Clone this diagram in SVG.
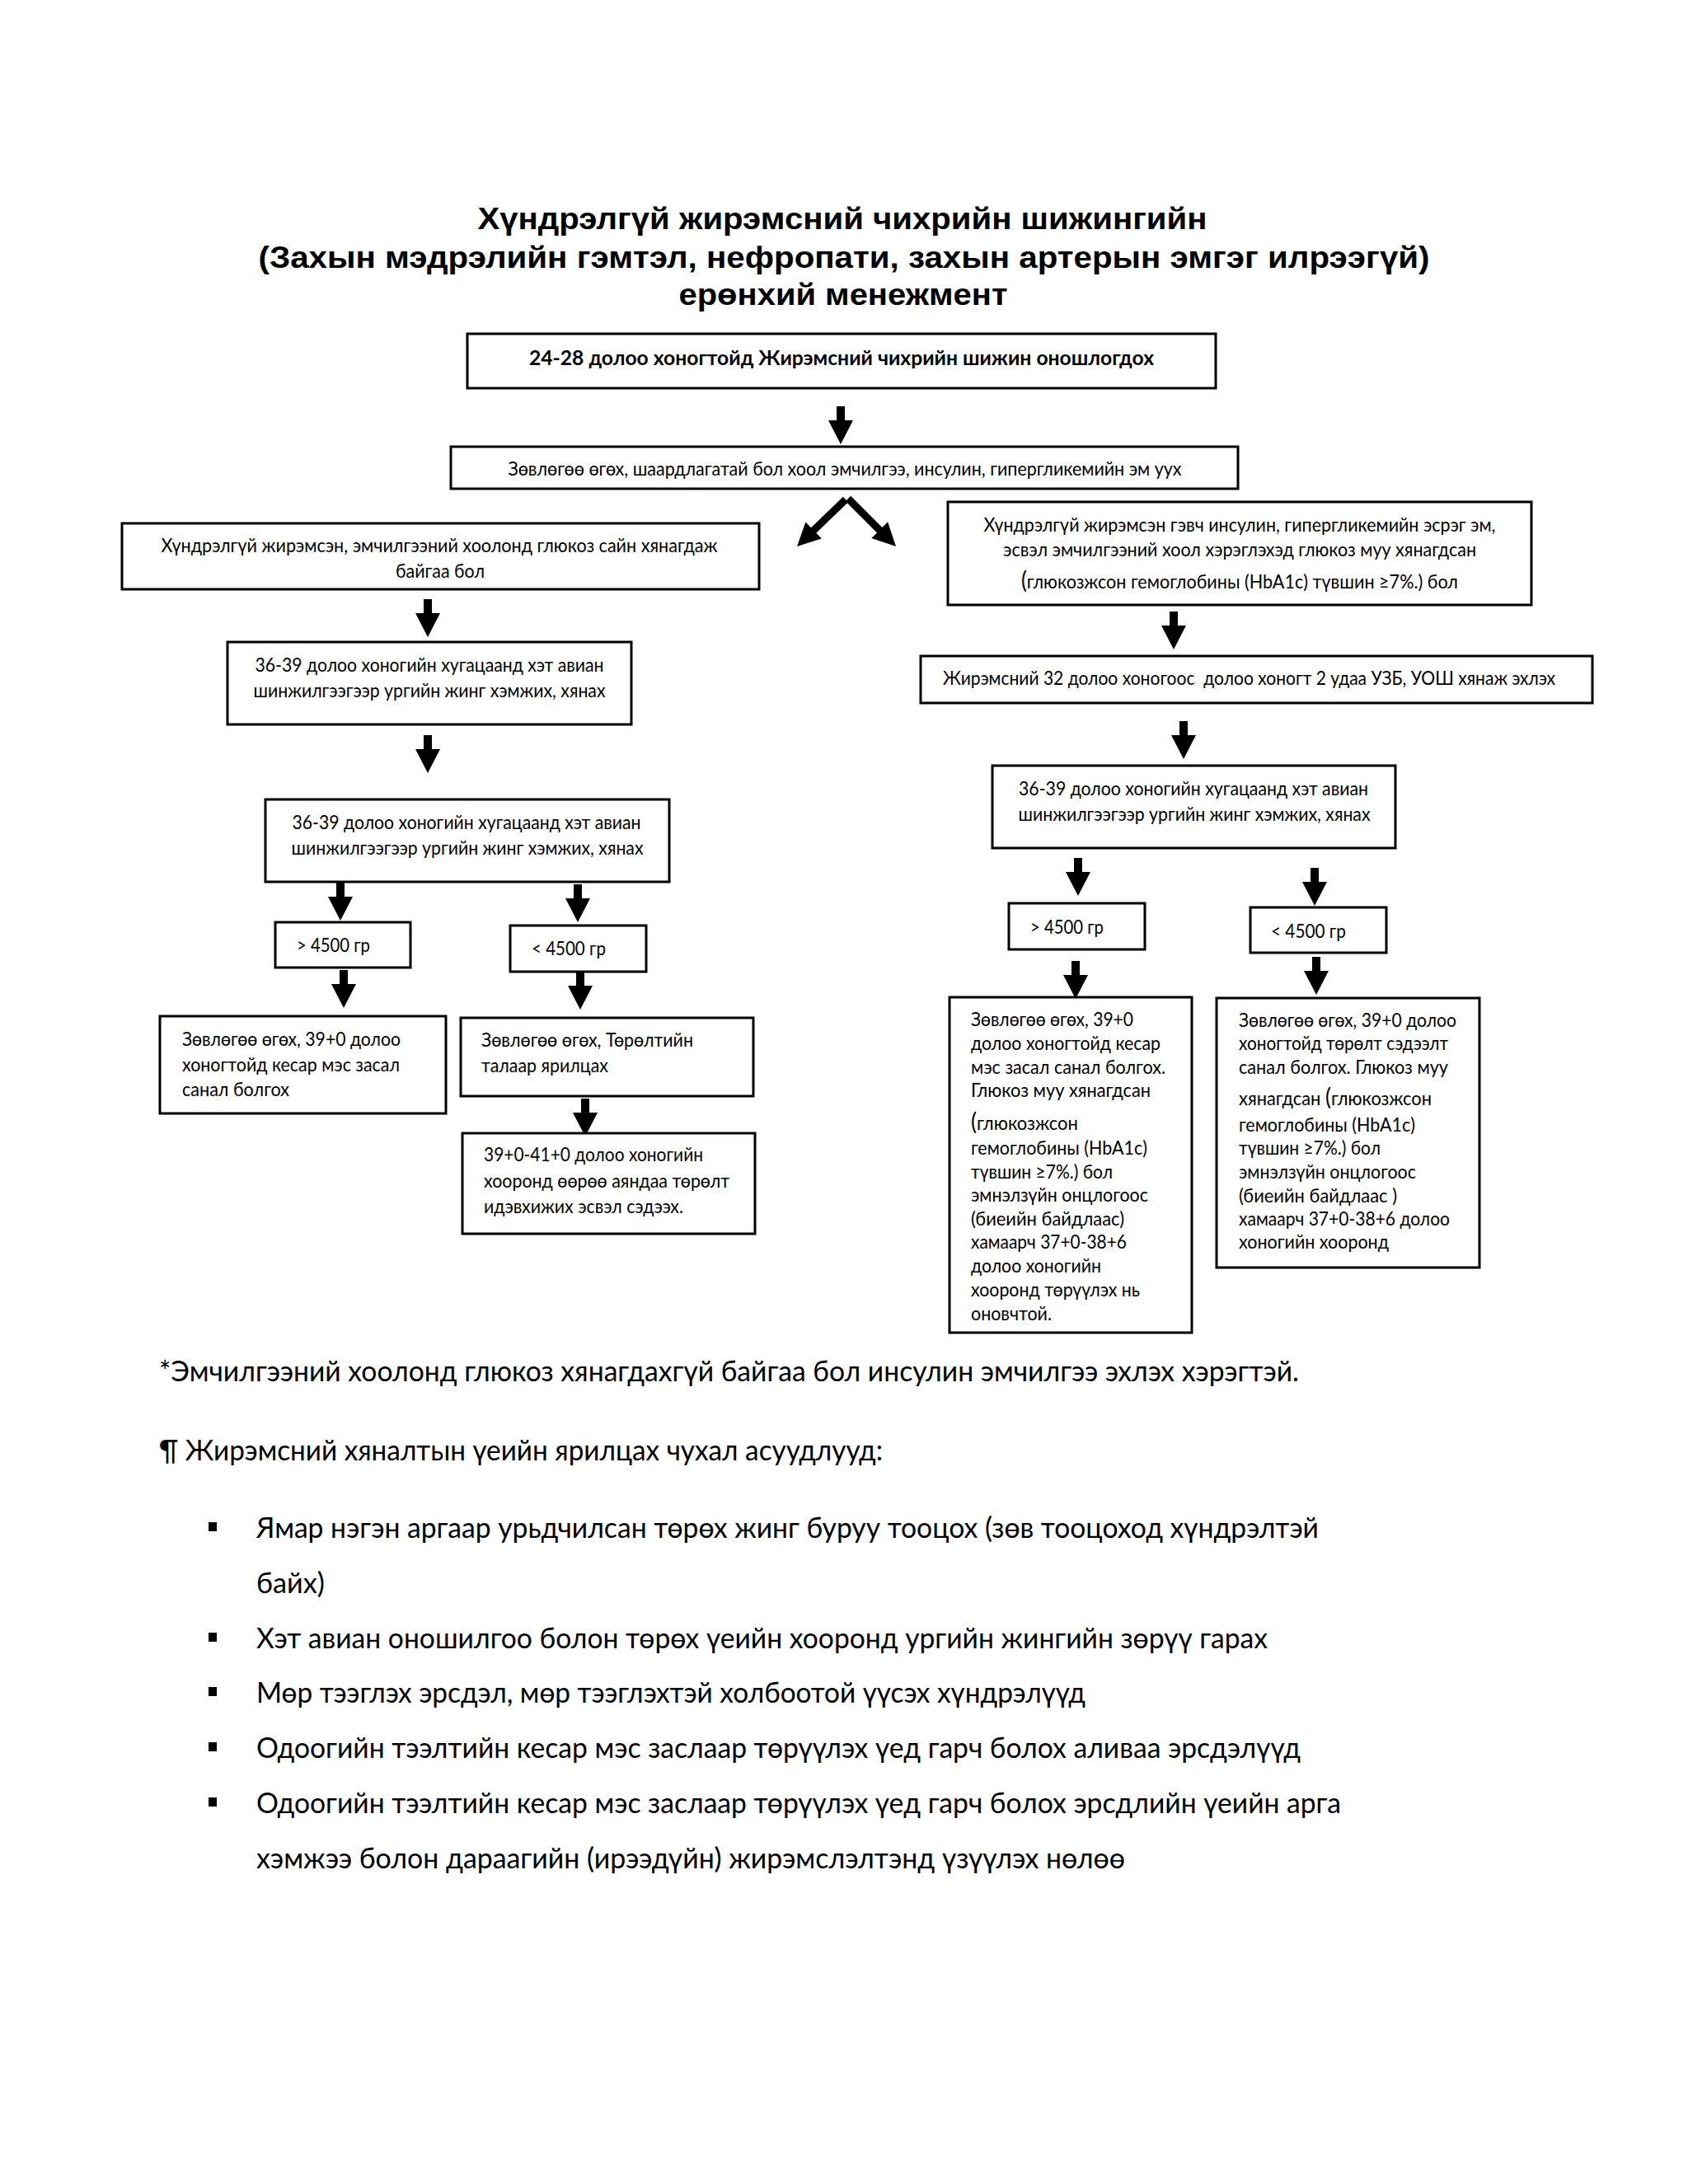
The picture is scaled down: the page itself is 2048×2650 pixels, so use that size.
<svg xmlns="http://www.w3.org/2000/svg" xmlns:xlink="http://www.w3.org/1999/xlink" width="2048" height="2650" viewBox="0 0 2048 2650">
<style>
.box{fill:#fff;stroke:#000;stroke-width:3}
.t{font-family:Lato,"Open Sans","Liberation Sans",sans-serif;font-size:23.5px;fill:#000}
.c{text-anchor:middle}
.b{font-weight:bold;font-size:25px}
.ti{font-family:"Liberation Sans",Arial,sans-serif;font-weight:bold;font-size:37px;fill:#000;text-anchor:middle}
.f{font-size:35px}
.p{font-size:28px}
.arr{fill:#000}
</style>
<defs>
<path id="ad" d="M-5,-46 H5 V-29 H15 L0,0 L-15,-29 H-5 Z"/>
</defs>
<rect width="2048" height="2650" fill="#fff"/>

<g id="title">
<text class="ti" x="1022" y="278" textLength="885" lengthAdjust="spacingAndGlyphs">Хүндрэлгүй жирэмсний чихрийн шижингийн</text>
<text class="ti" x="1024" y="325" textLength="1421" lengthAdjust="spacingAndGlyphs">(Захын мэдрэлийн гэмтэл, нефропати, захын артерын эмгэг илрээгүй)</text>
<text class="ti" x="1023" y="370" textLength="399" lengthAdjust="spacingAndGlyphs">ерөнхий менежмент</text>
</g>

<g id="connectors" class="arr">
<use xlink:href="#ad" x="1020" y="539"/>
<path d="M-4.5,-82 H4.5 V-28 H14 L0,0 L-14,-28 H-4.5 Z" transform="translate(967,663) rotate(46)"/>
<path d="M-4.5,-82 H4.5 V-28 H14 L0,0 L-14,-28 H-4.5 Z" transform="translate(1087,663) rotate(-45)"/>
<use xlink:href="#ad" x="519" y="773"/>
<use xlink:href="#ad" x="519" y="938"/>
<use xlink:href="#ad" x="413" y="1117"/>
<use xlink:href="#ad" x="701" y="1119"/>
<use xlink:href="#ad" x="417" y="1223"/>
<use xlink:href="#ad" x="704" y="1225"/>
<use xlink:href="#ad" x="710" y="1379"/>
<use xlink:href="#ad" x="1424" y="788"/>
<use xlink:href="#ad" x="1436" y="921"/>
<use xlink:href="#ad" x="1308" y="1087"/>
<use xlink:href="#ad" x="1595" y="1099"/>
<use xlink:href="#ad" x="1305" y="1212"/>
<use xlink:href="#ad" x="1597" y="1207"/>
</g>

<g id="n-diagnosis">
<rect class="box" x="567" y="405" width="908" height="66"/>
<text class="t b c" x="1021" y="443" textLength="758" lengthAdjust="spacingAndGlyphs">24-28 долоо хоногтойд Жирэмсний чихрийн шижин оношлогдох</text>
</g>

<g id="n-advice">
<rect class="box" x="547" y="542" width="955" height="51"/>
<text class="t c" x="1025" y="577" textLength="817" lengthAdjust="spacingAndGlyphs">Зөвлөгөө өгөх, шаардлагатай бол хоол эмчилгээ, инсулин, гипергликемийн эм уух</text>
</g>

<g id="n-left-controlled">
<rect class="box" x="148" y="635" width="773" height="80"/>
<text class="t c" x="533" y="670" textLength="675" lengthAdjust="spacingAndGlyphs">Хүндрэлгүй жирэмсэн, эмчилгээний хоолонд глюкоз сайн хянагдаж</text>
<text class="t c" x="534" y="701" textLength="108" lengthAdjust="spacingAndGlyphs">байгаа бол</text>
</g>

<g id="n-right-poor">
<rect class="box" x="1150" y="609" width="708" height="125"/>
<text class="t c" x="1504" y="645" textLength="621" lengthAdjust="spacingAndGlyphs">Хүндрэлгүй жирэмсэн гэвч инсулин, гипергликемийн эсрэг эм,</text>
<text class="t c" x="1504" y="675" textLength="574" lengthAdjust="spacingAndGlyphs">эсвэл эмчилгээний хоол хэрэглэхэд глюкоз муу хянагдсан</text>
<text class="t c" x="1504" y="714" textLength="530" lengthAdjust="spacingAndGlyphs"><tspan class="p">(</tspan>глюкозжсон гемоглобины (HbA1c) түвшин ≥7%.) бол</text>
</g>

<g id="n-left-us1">
<rect class="box" x="276" y="779" width="490" height="100"/>
<text class="t c" x="521" y="815" textLength="423" lengthAdjust="spacingAndGlyphs">36-39 долоо хоногийн хугацаанд хэт авиан</text>
<text class="t c" x="521" y="846" textLength="427" lengthAdjust="spacingAndGlyphs">шинжилгээгээр ургийн жинг хэмжих, хянах</text>
</g>

<g id="n-right-32">
<rect class="box" x="1117" y="796" width="815" height="57"/>
<text class="t" x="1144" y="831" xml:space="preserve" textLength="743" lengthAdjust="spacingAndGlyphs">Жирэмсний 32 долоо хоногоос  долоо хоногт 2 удаа УЗБ, УОШ хянаж эхлэх</text>
</g>

<g id="n-left-us2">
<rect class="box" x="322" y="970" width="490" height="100"/>
<text class="t c" x="566" y="1006" textLength="423" lengthAdjust="spacingAndGlyphs">36-39 долоо хоногийн хугацаанд хэт авиан</text>
<text class="t c" x="567" y="1037" textLength="427" lengthAdjust="spacingAndGlyphs">шинжилгээгээр ургийн жинг хэмжих, хянах</text>
</g>

<g id="n-right-us">
<rect class="box" x="1204" y="929" width="489" height="100"/>
<text class="t c" x="1448" y="965" textLength="424" lengthAdjust="spacingAndGlyphs">36-39 долоо хоногийн хугацаанд хэт авиан</text>
<text class="t c" x="1449" y="996" textLength="427" lengthAdjust="spacingAndGlyphs">шинжилгээгээр ургийн жинг хэмжих, хянах</text>
</g>

<g id="n-left-gt">
<rect class="box" x="334" y="1119" width="164" height="55"/>
<text class="t" x="360" y="1155" textLength="89" lengthAdjust="spacingAndGlyphs">&gt; 4500 гр</text>
</g>
<g id="n-left-lt">
<rect class="box" x="619" y="1123" width="165" height="56"/>
<text class="t" x="645" y="1159" textLength="90" lengthAdjust="spacingAndGlyphs">&lt; 4500 гр</text>
</g>
<g id="n-right-gt">
<rect class="box" x="1224" y="1096" width="165" height="56"/>
<text class="t" x="1250" y="1133" textLength="89" lengthAdjust="spacingAndGlyphs">&gt; 4500 гр</text>
</g>
<g id="n-right-lt">
<rect class="box" x="1517" y="1101" width="165" height="55"/>
<text class="t" x="1542" y="1138" textLength="91" lengthAdjust="spacingAndGlyphs">&lt; 4500 гр</text>
</g>

<g id="n-left-cs">
<rect class="box" x="194" y="1233" width="347" height="118"/>
<text class="t" x="221" y="1269" textLength="265" lengthAdjust="spacingAndGlyphs">Зөвлөгөө өгөх, 39+0 долоо</text>
<text class="t" x="221" y="1300" textLength="264" lengthAdjust="spacingAndGlyphs">хоногтойд кесар мэс засал</text>
<text class="t" x="221" y="1330" textLength="130" lengthAdjust="spacingAndGlyphs">санал болгох</text>
</g>

<g id="n-left-discuss">
<rect class="box" x="559" y="1235" width="355" height="95"/>
<text class="t" x="584" y="1270" textLength="257" lengthAdjust="spacingAndGlyphs">Зөвлөгөө өгөх, Төрөлтийн</text>
<text class="t" x="584" y="1301" textLength="154" lengthAdjust="spacingAndGlyphs">талаар ярилцах</text>
</g>

<g id="n-left-induce">
<rect class="box" x="561" y="1375" width="355" height="122"/>
<text class="t" x="587" y="1409" textLength="266" lengthAdjust="spacingAndGlyphs">39+0-41+0 долоо хоногийн</text>
<text class="t" x="587" y="1441" textLength="298" lengthAdjust="spacingAndGlyphs">хооронд өөрөө аяндаа төрөлт</text>
<text class="t" x="587" y="1472" textLength="242" lengthAdjust="spacingAndGlyphs">идэвхижих эсвэл сэдээх.</text>
</g>

<g id="n-right-cs">
<rect class="box" x="1152" y="1210" width="294" height="407"/>
<text class="t" x="1178" y="1245" textLength="197" lengthAdjust="spacingAndGlyphs">Зөвлөгөө өгөх, 39+0</text>
<text class="t" x="1178" y="1274" textLength="230" lengthAdjust="spacingAndGlyphs">долоо хоногтойд кесар</text>
<text class="t" x="1178" y="1303" textLength="236" lengthAdjust="spacingAndGlyphs">мэс засал санал болгох.</text>
<text class="t" x="1178" y="1331" textLength="218" lengthAdjust="spacingAndGlyphs">Глюкоз муу хянагдсан</text>
<text class="t" x="1178" y="1371" textLength="130" lengthAdjust="spacingAndGlyphs"><tspan class="p">(</tspan>глюкозжсон</text>
<text class="t" x="1178" y="1401" textLength="214" lengthAdjust="spacingAndGlyphs">гемоглобины (HbA1c)</text>
<text class="t" x="1178" y="1430" textLength="172" lengthAdjust="spacingAndGlyphs">түвшин ≥7%.) бол</text>
<text class="t" x="1178" y="1458" textLength="215" lengthAdjust="spacingAndGlyphs">эмнэлзүйн онцлогоос</text>
<text class="t" x="1178" y="1487" textLength="186" lengthAdjust="spacingAndGlyphs">(биеийн байдлаас)</text>
<text class="t" x="1178" y="1515" textLength="189" lengthAdjust="spacingAndGlyphs">хамаарч 37+0-38+6</text>
<text class="t" x="1178" y="1544" textLength="158" lengthAdjust="spacingAndGlyphs">долоо хоногийн</text>
<text class="t" x="1178" y="1573" textLength="205" lengthAdjust="spacingAndGlyphs">хооронд төрүүлэх нь</text>
<text class="t" x="1178" y="1602" textLength="98" lengthAdjust="spacingAndGlyphs">оновчтой.</text>
</g>

<g id="n-right-induce">
<rect class="box" x="1476" y="1211" width="319" height="327"/>
<text class="t" x="1503" y="1246" textLength="264" lengthAdjust="spacingAndGlyphs">Зөвлөгөө өгөх, 39+0 долоо</text>
<text class="t" x="1503" y="1274" textLength="254" lengthAdjust="spacingAndGlyphs">хоногтойд төрөлт сэдээлт</text>
<text class="t" x="1503" y="1303" textLength="254" lengthAdjust="spacingAndGlyphs">санал болгох. Глюкоз муу</text>
<text class="t" x="1503" y="1341" textLength="234" lengthAdjust="spacingAndGlyphs">хянагдсан <tspan class="p">(</tspan>глюкозжсон</text>
<text class="t" x="1503" y="1373" textLength="214" lengthAdjust="spacingAndGlyphs">гемоглобины (HbA1c)</text>
<text class="t" x="1503" y="1401" textLength="172" lengthAdjust="spacingAndGlyphs">түвшин ≥7%.) бол</text>
<text class="t" x="1503" y="1430" textLength="215" lengthAdjust="spacingAndGlyphs">эмнэлзүйн онцлогоос</text>
<text class="t" x="1503" y="1459" textLength="192" lengthAdjust="spacingAndGlyphs">(биеийн байдлаас )</text>
<text class="t" x="1503" y="1487" textLength="256" lengthAdjust="spacingAndGlyphs">хамаарч 37+0-38+6 долоо</text>
<text class="t" x="1503" y="1515" textLength="182" lengthAdjust="spacingAndGlyphs">хоногийн хооронд</text>
</g>

<g id="notes">
<text class="t f" x="193" y="1676" textLength="1383" lengthAdjust="spacingAndGlyphs">*Эмчилгээний хоолонд глюкоз хянагдахгүй байгаа бол инсулин эмчилгээ эхлэх хэрэгтэй.</text>
<text class="t f" x="193" y="1772" textLength="878" lengthAdjust="spacingAndGlyphs">¶ Жирэмсний хяналтын үеийн ярилцах чухал асуудлууд:</text>
<rect x="253" y="1847" width="10" height="11" fill="#000"/>
<text class="t f" x="311" y="1866" textLength="1289" lengthAdjust="spacingAndGlyphs">Ямар нэгэн аргаар урьдчилсан төрөх жинг буруу тооцох (зөв тооцоход хүндрэлтэй</text>
<text class="t f" x="311" y="1933" textLength="83" lengthAdjust="spacingAndGlyphs">байх)</text>
<rect x="253" y="1981" width="10" height="11" fill="#000"/>
<text class="t f" x="311" y="2000" textLength="1227" lengthAdjust="spacingAndGlyphs">Хэт авиан оношилгоо болон төрөх үеийн хооронд ургийн жингийн зөрүү гарах</text>
<rect x="253" y="2047" width="10" height="11" fill="#000"/>
<text class="t f" x="311" y="2066" textLength="1006" lengthAdjust="spacingAndGlyphs">Мөр тээглэх эрсдэл, мөр тээглэхтэй холбоотой үүсэх хүндрэлүүд</text>
<rect x="253" y="2114" width="10" height="11" fill="#000"/>
<text class="t f" x="311" y="2133" textLength="1267" lengthAdjust="spacingAndGlyphs">Одоогийн тээлтийн кесар мэс заслаар төрүүлэх үед гарч болох аливаа эрсдэлүүд</text>
<rect x="253" y="2181" width="10" height="11" fill="#000"/>
<text class="t f" x="311" y="2200" textLength="1316" lengthAdjust="spacingAndGlyphs">Одоогийн тээлтийн кесар мэс заслаар төрүүлэх үед гарч болох эрсдлийн үеийн арга</text>
<text class="t f" x="311" y="2267" textLength="1054" lengthAdjust="spacingAndGlyphs">хэмжээ болон дараагийн (ирээдүйн) жирэмслэлтэнд үзүүлэх нөлөө</text>
</g>
</svg>
